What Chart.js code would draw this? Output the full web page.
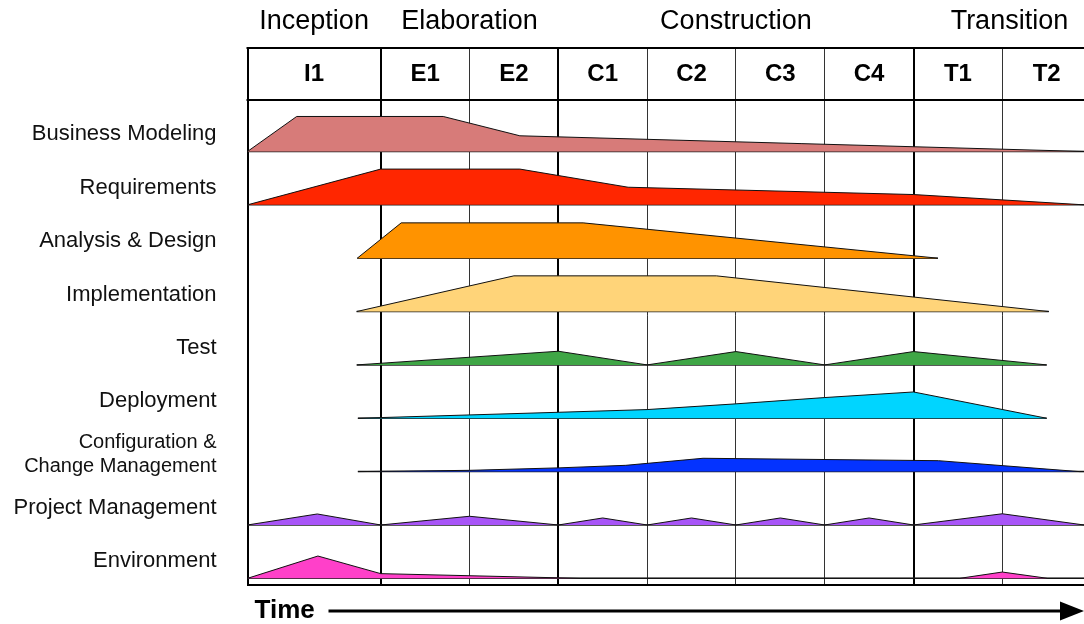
<!DOCTYPE html>
<html><head><meta charset="utf-8">
<style>html,body{margin:0;padding:0;background:#fff}</style>
<script src="https://cdn.jsdelivr.net/npm/chart.js@4.4.1/dist/chart.umd.min.js"></script>
</head><body>
<canvas id="c" width="1084" height="624"></canvas>
<script>
// ---- data ----
const phases = ['Inception', 'Elaboration', 'Construction', 'Transition'];
const phaseCenters = [0.75, 2.5, 5.5, 8.58];
const iterations = ['I1', 'E1', 'E2', 'C1', 'C2', 'C3', 'C4', 'T1', 'T2'];
const iterationCenters = [0.75, 2, 3, 4, 5, 6, 7, 8, 9];
const boundaries = [0, 1.5, 2.5, 3.5, 4.5, 5.5, 6.5, 7.5, 8.5];
const phaseBoundaries = [0, 1.5, 3.5, 7.5];
const disciplines = ['Business Modeling', 'Requirements', 'Analysis & Design', 'Implementation', 'Test',
  'Deployment', ['Configuration &', 'Change Management'], 'Project Management', 'Environment'];
const baselines = [8.125, 7.125, 6.125, 5.125, 4.125, 3.125, 2.125, 1.125, 0.125];
const colors = ['#d77b79', '#ff2600', '#ff9300', '#ffd479', '#3fa646', '#00d5ff', '#0433ff', '#a855f7', '#ff40c9'];

const bmX  = [0, 0.554, 2.204, 3.067, 9.42];
const bmH  = [0, 0.656, 0.656, 0.294, 0];
const reqX = [0, 1.5, 3.067, 4.286, 7.5, 9.42];
const reqH = [0, 0.67, 0.67, 0.33, 0.193, 0];
const adX  = [1.236, 1.731, 3.78, 7.775];
const adH  = [0, 0.662, 0.662, 0];
const impX = [1.229, 3.0, 5.28, 9.024];
const impH = [0, 0.669, 0.669, 0];
const tstX = [1.23, 3.5, 4.5, 5.5, 6.5, 7.5, 9.0];
const tstH = [0, 0.256, 0, 0.25, 0, 0.25, 0];
const depX = [1.243, 3.5, 4.5, 5.5, 6.5, 7.5, 9.0];
const depH = [0, 0.112, 0.163, 0.27, 0.388, 0.493, 0];
const cfgX = [1.243, 2.5, 3.5, 4.26, 5.13, 7.78, 9.37, 9.42];
const cfgH = [0, 0.024, 0.07, 0.118, 0.25, 0.205, 0, 0];
const pmX  = [0, 0.786, 1.5, 2.5, 3.5, 4.0, 4.5, 5.0, 5.5, 6.0, 6.5, 7.0, 7.5, 8.5, 9.42];
const pmH  = [0, 0.206, 0, 0.163, 0, 0.131, 0, 0.131, 0, 0.131, 0, 0.131, 0, 0.21, 0];
const envX = [0, 0.793, 1.5, 3.75, 8.02, 8.5, 9.01, 9.42];
const envH = [0, 0.418, 0.088, 0, 0, 0.118, 0, 0];

const profiles = [[bmX, bmH], [reqX, reqH], [adX, adH], [impX, impH], [tstX, tstH],
  [depX, depH], [cfgX, cfgH], [pmX, pmH], [envX, envH]];
const labelOffset = 0.32;

// ---- datasets ----
const datasets = [];
profiles.forEach(([xs, hs], i) => {
  const base = baselines[i];
  datasets.push({
    data: xs.map((x, j) => ({ x: x, y: base + hs[j] })),
    fill: { value: base },
    backgroundColor: colors[i],
    borderColor: '#111',
    borderWidth: 1,
    pointRadius: 0,
    tension: 0
  });
  datasets.push({
    data: [{ x: xs[0], y: base }, { x: xs[xs.length - 1], y: base }],
    fill: false,
    borderColor: '#222',
    borderWidth: 1.5,
    pointRadius: 0
  });
});

const FONT = "'Liberation Sans', Arial, Helvetica, sans-serif";

const decor = {
  id: 'decor',
  afterDraw(chart) {
    const { ctx, chartArea: a, scales: { x, y } } = chart;
    ctx.save();
    ctx.strokeStyle = '#000';
    ctx.lineWidth = 2;
    // top border and header line
    [y.max, 9.094].forEach(v => {
      const py = Math.round(y.getPixelForValue(v));
      ctx.beginPath();
      ctx.moveTo(a.left - 1, py);
      ctx.lineTo(a.right, py);
      ctx.stroke();
    });
    // header labels
    ctx.fillStyle = '#000';
    ctx.textAlign = 'center';
    ctx.textBaseline = 'middle';
    ctx.font = 'bold 24px ' + FONT;
    iterations.forEach((t, i) => {
      ctx.fillText(t, x.getPixelForValue(iterationCenters[i]), y.getPixelForValue(9.58) + 1);
    });
    // phase labels
    ctx.font = '27px ' + FONT;
    phases.forEach((t, i) => {
      ctx.fillText(t, x.getPixelForValue(phaseCenters[i]), 22);
    });
    // time arrow
    ctx.textAlign = 'left';
    ctx.font = 'bold 26px ' + FONT;
    ctx.fillText('Time', a.left + 7, 611);
    ctx.lineWidth = 3;
    ctx.beginPath();
    ctx.moveTo(a.left + 81, 611);
    ctx.lineTo(a.right - 20, 611);
    ctx.stroke();
    ctx.beginPath();
    ctx.moveTo(a.right - 24, 601.5);
    ctx.lineTo(a.right, 611);
    ctx.lineTo(a.right - 24, 620.5);
    ctx.closePath();
    ctx.fill();
    ctx.restore();
  }
};

new Chart(document.getElementById('c'), {
  type: 'line',
  data: { datasets },
  options: {
    responsive: false,
    animation: false,
    layout: { padding: { top: 47.7, left: 0, right: 0, bottom: 0 } },
    plugins: { legend: { display: false }, tooltip: { enabled: false } },
    scales: {
      x: {
        type: 'linear',
        min: 0,
        max: 9.42,
        z: 1,
        afterBuildTicks: s => { s.ticks = boundaries.map(v => ({ value: v })); },
        afterFit: s => { s.height = 39; s.paddingLeft = 0; s.paddingRight = 0; },
        ticks: { display: false },
        grid: {
          drawTicks: false,
          color: c => phaseBoundaries.includes(c.tick && c.tick.value) ? '#000' : '#333',
          lineWidth: c => phaseBoundaries.includes(c.tick && c.tick.value) ? 2 : 1
        },
        border: { display: true, color: '#000', width: 2 }
      },
      y: {
        type: 'linear',
        min: 0,
        max: 10.07,
        afterBuildTicks: s => { s.ticks = baselines.map(v => ({ value: v + labelOffset })); },
        afterFit: s => { s.width = 247.5; s.paddingTop = 0; s.paddingBottom = 0; },
        grid: { display: false, drawTicks: false },
        border: { display: false },
        ticks: {
          autoSkip: false,
          padding: 31,
          color: '#111',
          font: c => (c.index === 6 ? { size: 20, family: FONT, lineHeight: 1.22 } : { size: 22, family: FONT }),
          callback: (v, i) => disciplines[i]
        }
      }
    }
  },
  plugins: [decor]
});
</script>
</body></html>
